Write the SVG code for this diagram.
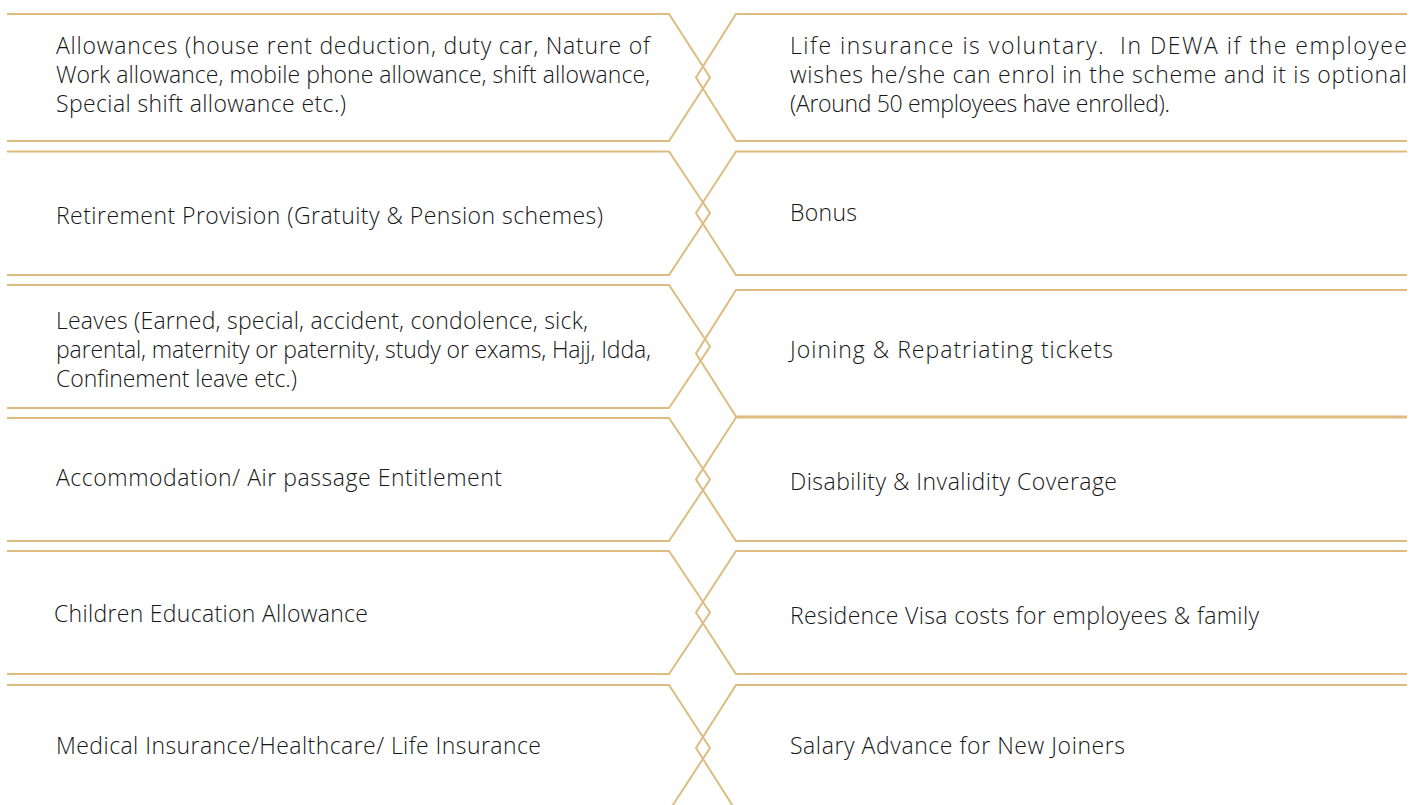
<svg xmlns="http://www.w3.org/2000/svg" width="1410" height="805" viewBox="0 0 1410 805">
  <style>
    .frame { fill: none; stroke: #DEBC80; stroke-width: 2; stroke-linejoin: miter; }
    .lbl { font-family: "Open Sans", "Noto Sans", "Liberation Sans", sans-serif; font-weight: 300; font-size: 23px; fill: #161616; }
  </style>
  <rect x="0" y="0" width="1410" height="805" fill="#ffffff"/>
  <g id="connectors"/>

  <g id="left-1">
    <polyline class="frame" points="7,14 669,14 710,77.5 669,141 7,141"/>
    <text class="lbl"><tspan x="56" y="54" textLength="594" lengthAdjust="spacing">Allowances (house rent deduction, duty car, Nature of</tspan></text>
    <text class="lbl"><tspan x="56" y="83" textLength="594" lengthAdjust="spacing">Work allowance, mobile phone allowance, shift allowance,</tspan></text>
    <text class="lbl"><tspan x="56" y="112" textLength="290" lengthAdjust="spacing">Special shift allowance etc.)</tspan></text>
  </g>
  <g id="right-1">
    <polyline class="frame" points="1407,14 736,14 696,77.5 736,141 1407,141"/>
    <text class="lbl"><tspan x="790" y="54" textLength="617" lengthAdjust="spacing">Life insurance is voluntary.&#160; In DEWA if the employee</tspan></text>
    <text class="lbl"><tspan x="790" y="83" textLength="617" lengthAdjust="spacing">wishes he/she can enrol in the scheme and it is optional</tspan></text>
    <text class="lbl"><tspan x="790" y="112" textLength="380" lengthAdjust="spacing">(Around 50 employees have enrolled).</tspan></text>
  </g>

  <g id="left-2">
    <polyline class="frame" points="7,151.5 669,151.5 710,213 669,275 7,275"/>
    <text class="lbl"><tspan x="56" y="224" textLength="547" lengthAdjust="spacing">Retirement Provision (Gratuity &amp; Pension schemes)</tspan></text>
  </g>
  <g id="right-2">
    <polyline class="frame" points="1407,151.5 736,151.5 696,213 736,275 1407,275"/>
    <text class="lbl"><tspan x="790" y="221" textLength="67" lengthAdjust="spacing">Bonus</tspan></text>
  </g>

  <g id="left-3">
    <polyline class="frame" points="7,285 669,285 710,346.5 669,408 7,408"/>
    <text class="lbl"><tspan x="56" y="329" textLength="532" lengthAdjust="spacing">Leaves (Earned, special, accident, condolence, sick,</tspan></text>
    <text class="lbl"><tspan x="56" y="358" textLength="595" lengthAdjust="spacing">parental, maternity or paternity, study or exams, Hajj, Idda,</tspan></text>
    <text class="lbl"><tspan x="56" y="387" textLength="241" lengthAdjust="spacing">Confinement leave etc.)</tspan></text>
  </g>
  <g id="right-3">
    <polyline class="frame" points="1407,290 736,290 696,353.5 736,416.5 1407,416.5"/>
    <text class="lbl"><tspan x="790" y="358" textLength="323" lengthAdjust="spacing">Joining &amp; Repatriating tickets</tspan></text>
  </g>

  <g id="left-4">
    <polyline class="frame" points="7,418 669,418 710,479.5 669,541 7,541"/>
    <text class="lbl"><tspan x="56" y="486" textLength="446" lengthAdjust="spacing">Accommodation/ Air passage Entitlement</tspan></text>
  </g>
  <g id="right-4">
    <polyline class="frame" points="1407,417.5 736,417.5 696,479.5 736,541 1407,541"/>
    <text class="lbl"><tspan x="790" y="490" textLength="327" lengthAdjust="spacing">Disability &amp; Invalidity Coverage</tspan></text>
  </g>

  <g id="left-5">
    <polyline class="frame" points="7,551 669,551 710,612.5 669,674 7,674"/>
    <text class="lbl"><tspan x="54" y="622" textLength="314" lengthAdjust="spacing">Children Education Allowance</tspan></text>
  </g>
  <g id="right-5">
    <polyline class="frame" points="1407,551 736,551 696,612.5 736,674 1407,674"/>
    <text class="lbl"><tspan x="790" y="624" textLength="469" lengthAdjust="spacing">Residence Visa costs for employees &amp; family</tspan></text>
  </g>

  <g id="left-6">
    <polyline class="frame" points="7,685 669,685 710,748 669,811 7,811"/>
    <text class="lbl"><tspan x="56" y="754" textLength="485" lengthAdjust="spacing">Medical Insurance/Healthcare/ Life Insurance</tspan></text>
  </g>
  <g id="right-6">
    <polyline class="frame" points="1407,685 736,685 696,748 736,811 1407,811"/>
    <text class="lbl"><tspan x="790" y="754" textLength="335" lengthAdjust="spacing">Salary Advance for New Joiners</tspan></text>
  </g>
</svg>
